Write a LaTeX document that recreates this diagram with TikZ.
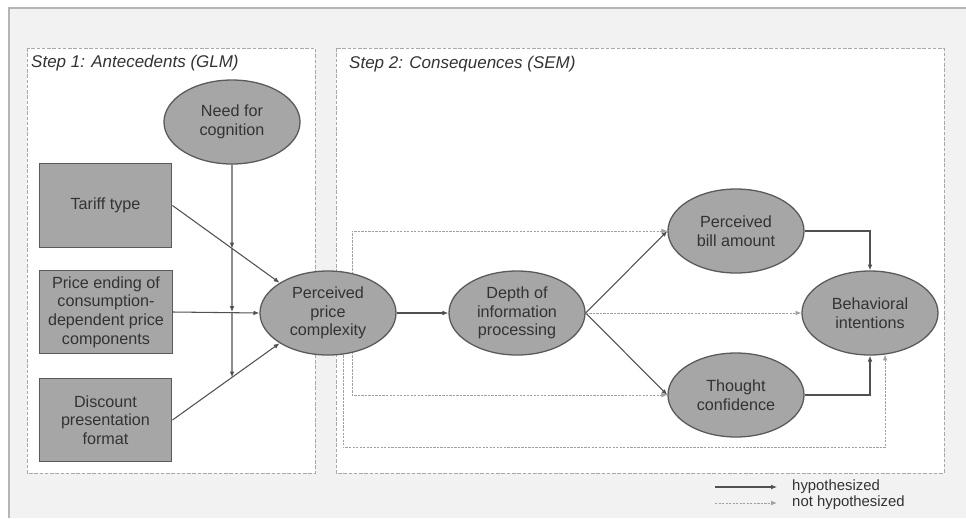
\documentclass[tikz,border=0pt]{standalone}
\usepackage{fontspec}
\setmainfont{Liberation Sans}
\usetikzlibrary{arrows.meta,shapes.geometric,calc}
\pgfdeclarelayer{bg}
\pgfdeclarelayer{back}
\pgfsetlayers{bg,back,main}
\definecolor{framegray}{HTML}{B5B5B5}
\definecolor{paneledge}{HTML}{A8A8A8}
\definecolor{bgfill}{HTML}{F2F2F2}
\definecolor{shapefill}{HTML}{A6A6A6}
\definecolor{shapeedge}{HTML}{5A5A5A}
\definecolor{linecol}{HTML}{505050}
\definecolor{dotcol}{HTML}{A0A0A0}
\definecolor{textcol}{HTML}{333333}
\begin{document}
\begin{tikzpicture}[x=0.03cm,y=-0.03cm,
  oval/.style={ellipse,draw=shapeedge,line width=1.1pt,fill=shapefill,minimum width=4.08cm,minimum height=2.52cm,inner sep=0pt,align=center,text=textcol,font=\fontsize{13.8}{16}\selectfont},
  box/.style={rectangle,draw=shapeedge,line width=1.1pt,fill=shapefill,minimum width=3.98cm,minimum height=2.5cm,inner sep=0pt,align=center,text=textcol,font=\fontsize{13.8}{16}\selectfont},
  hyp/.style={draw=linecol,line width=0.9pt,-{Latex[length=5pt,width=4pt]}},
  nothyp/.style={draw=dotcol,line width=0.8pt,dash pattern=on 2pt off 1pt,-{Latex[length=5pt,width=4pt]}},
  panel/.style={draw=paneledge,fill=white,line width=0.8pt,dash pattern=on 3pt off 1.5pt},
  title/.style={anchor=west,inner sep=0pt,font=\fontsize{14.5}{17}\selectfont\itshape,text=textcol},
  legendtext/.style={anchor=west,inner sep=0pt,font=\fontsize{12.7}{15}\selectfont,text=textcol}
]
\useasboundingbox (0,0) rectangle (966,518);
\begin{pgfonlayer}{bg}
  \fill[white] (0,0) rectangle (966,518);
  \fill[bgfill] (9,8) rectangle (966,518);
  \draw[framegray,line width=1pt] (9,518) -- (9,8) -- (966,8);
  \path[panel] (27,48) rectangle (315,473);
  \path[panel] (336,48) rectangle (944,473);
\end{pgfonlayer}

\node[title] (t1) at (31,63) {Step 1: Antecedents (GLM)};
\node[title] (t2) at (349,64) {Step 2: Consequences (SEM)};

\node[oval] (nfc) at (232,122) {Need for\\cognition};
\node[box] (tt) at (105.5,205.5) {Tariff type};
\node[box] (pe) at (106,312) {Price ending of\\consumption-\\dependent price\\components};
\node[box] (dp) at (105.5,420) {Discount\\presentation\\format};
\node[oval] (ppc) at (328,313) {Perceived\\price\\complexity};
\node[oval] (dip) at (517,313) {Depth of\\information\\processing};
\node[oval] (pba) at (736,231) {Perceived\\bill amount};
\node[oval] (bi) at (870,313) {Behavioral\\intentions};
\node[oval] (tc) at (736,395) {Thought\\confidence};

% antecedent paths
\draw[hyp] (tt.east) -- (ppc.148);
\draw[hyp] (pe.east) -- (ppc.west);
\draw[hyp] (dp.east) -- (ppc.212);
\coordinate (m2) at (nfc.south |- pe.east);
\coordinate (m1) at (intersection of nfc.south--m2 and tt.east--ppc.148);
\coordinate (m3) at (intersection of nfc.south--m2 and dp.east--ppc.212);
\draw[hyp] (nfc.south) -- (m1);
\draw[hyp] (m1) -- (m2);
\draw[hyp] (m2) -- (m3);

% hypothesized consequences
\draw[hyp] (ppc.east) -- (dip.west);
\draw[hyp] (dip.east) -- (pba.west);
\draw[hyp] (dip.east) -- (tc.west);
\draw[hyp] (pba.east) -| (bi.north);
\draw[hyp] (tc.east) -| (bi.south);

% not hypothesized
\begin{pgfonlayer}{back}
  \draw[nothyp] ($(ppc.center)+(24,0)$) |- (pba.west);
  \draw[nothyp] ($(ppc.center)+(24,0)$) |- (tc.west);
  \draw[nothyp] ($(ppc.center)+(15,0)$) |- ($(bi.-70)+(0,93)$) -- (bi.-70);
\end{pgfonlayer}
\draw[nothyp] (dip.east) -- (bi.west);

% legend
\coordinate (la1) at (715,487);
\coordinate (lb1) at (777,487);
\coordinate (la2) at (715,503);
\coordinate (lb2) at (777,503);
\draw[hyp] (la1) -- (lb1);
\draw[nothyp] (la2) -- (lb2);
\node[legendtext] (lg1) at (792,487) {hypothesized};
\node[legendtext] (lg2) at (792,503) {not hypothesized};
\end{tikzpicture}
\end{document}
